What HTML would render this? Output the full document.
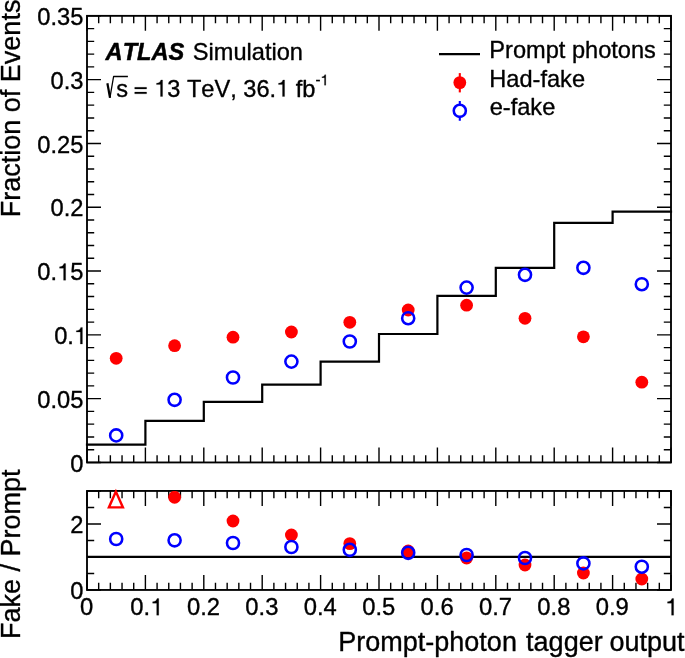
<!DOCTYPE html>
<html><head><meta charset="utf-8"><title>plot</title>
<style>html,body{margin:0;padding:0;background:#fff;}body{width:685px;height:658px;overflow:hidden;}svg{display:block;will-change:transform;}text{font-kerning:none;white-space:pre;}</style>
</head><body>
<svg width="685" height="658" viewBox="0 0 685 658">
<rect width="685" height="658" fill="#fff"/>
<path d="M87.00 462.45V447.45M87.00 15.85V30.85M87.00 589.95V574.95M87.00 490.95V505.95M98.68 462.45V455.15M98.68 15.85V23.15M98.68 589.95V582.65M98.68 490.95V498.25M110.36 462.45V455.15M110.36 15.85V23.15M110.36 589.95V582.65M110.36 490.95V498.25M122.04 462.45V455.15M122.04 15.85V23.15M122.04 589.95V582.65M122.04 490.95V498.25M133.72 462.45V455.15M133.72 15.85V23.15M133.72 589.95V582.65M133.72 490.95V498.25M145.40 462.45V447.45M145.40 15.85V30.85M145.40 589.95V574.95M145.40 490.95V505.95M157.08 462.45V455.15M157.08 15.85V23.15M157.08 589.95V582.65M157.08 490.95V498.25M168.76 462.45V455.15M168.76 15.85V23.15M168.76 589.95V582.65M168.76 490.95V498.25M180.44 462.45V455.15M180.44 15.85V23.15M180.44 589.95V582.65M180.44 490.95V498.25M192.12 462.45V455.15M192.12 15.85V23.15M192.12 589.95V582.65M192.12 490.95V498.25M203.80 462.45V447.45M203.80 15.85V30.85M203.80 589.95V574.95M203.80 490.95V505.95M215.48 462.45V455.15M215.48 15.85V23.15M215.48 589.95V582.65M215.48 490.95V498.25M227.16 462.45V455.15M227.16 15.85V23.15M227.16 589.95V582.65M227.16 490.95V498.25M238.84 462.45V455.15M238.84 15.85V23.15M238.84 589.95V582.65M238.84 490.95V498.25M250.52 462.45V455.15M250.52 15.85V23.15M250.52 589.95V582.65M250.52 490.95V498.25M262.20 462.45V447.45M262.20 15.85V30.85M262.20 589.95V574.95M262.20 490.95V505.95M273.88 462.45V455.15M273.88 15.85V23.15M273.88 589.95V582.65M273.88 490.95V498.25M285.56 462.45V455.15M285.56 15.85V23.15M285.56 589.95V582.65M285.56 490.95V498.25M297.24 462.45V455.15M297.24 15.85V23.15M297.24 589.95V582.65M297.24 490.95V498.25M308.92 462.45V455.15M308.92 15.85V23.15M308.92 589.95V582.65M308.92 490.95V498.25M320.60 462.45V447.45M320.60 15.85V30.85M320.60 589.95V574.95M320.60 490.95V505.95M332.28 462.45V455.15M332.28 15.85V23.15M332.28 589.95V582.65M332.28 490.95V498.25M343.96 462.45V455.15M343.96 15.85V23.15M343.96 589.95V582.65M343.96 490.95V498.25M355.64 462.45V455.15M355.64 15.85V23.15M355.64 589.95V582.65M355.64 490.95V498.25M367.32 462.45V455.15M367.32 15.85V23.15M367.32 589.95V582.65M367.32 490.95V498.25M379.00 462.45V447.45M379.00 15.85V30.85M379.00 589.95V574.95M379.00 490.95V505.95M390.68 462.45V455.15M390.68 15.85V23.15M390.68 589.95V582.65M390.68 490.95V498.25M402.36 462.45V455.15M402.36 15.85V23.15M402.36 589.95V582.65M402.36 490.95V498.25M414.04 462.45V455.15M414.04 15.85V23.15M414.04 589.95V582.65M414.04 490.95V498.25M425.72 462.45V455.15M425.72 15.85V23.15M425.72 589.95V582.65M425.72 490.95V498.25M437.40 462.45V447.45M437.40 15.85V30.85M437.40 589.95V574.95M437.40 490.95V505.95M449.08 462.45V455.15M449.08 15.85V23.15M449.08 589.95V582.65M449.08 490.95V498.25M460.76 462.45V455.15M460.76 15.85V23.15M460.76 589.95V582.65M460.76 490.95V498.25M472.44 462.45V455.15M472.44 15.85V23.15M472.44 589.95V582.65M472.44 490.95V498.25M484.12 462.45V455.15M484.12 15.85V23.15M484.12 589.95V582.65M484.12 490.95V498.25M495.80 462.45V447.45M495.80 15.85V30.85M495.80 589.95V574.95M495.80 490.95V505.95M507.48 462.45V455.15M507.48 15.85V23.15M507.48 589.95V582.65M507.48 490.95V498.25M519.16 462.45V455.15M519.16 15.85V23.15M519.16 589.95V582.65M519.16 490.95V498.25M530.84 462.45V455.15M530.84 15.85V23.15M530.84 589.95V582.65M530.84 490.95V498.25M542.52 462.45V455.15M542.52 15.85V23.15M542.52 589.95V582.65M542.52 490.95V498.25M554.20 462.45V447.45M554.20 15.85V30.85M554.20 589.95V574.95M554.20 490.95V505.95M565.88 462.45V455.15M565.88 15.85V23.15M565.88 589.95V582.65M565.88 490.95V498.25M577.56 462.45V455.15M577.56 15.85V23.15M577.56 589.95V582.65M577.56 490.95V498.25M589.24 462.45V455.15M589.24 15.85V23.15M589.24 589.95V582.65M589.24 490.95V498.25M600.92 462.45V455.15M600.92 15.85V23.15M600.92 589.95V582.65M600.92 490.95V498.25M612.60 462.45V447.45M612.60 15.85V30.85M612.60 589.95V574.95M612.60 490.95V505.95M624.28 462.45V455.15M624.28 15.85V23.15M624.28 589.95V582.65M624.28 490.95V498.25M635.96 462.45V455.15M635.96 15.85V23.15M635.96 589.95V582.65M635.96 490.95V498.25M647.64 462.45V455.15M647.64 15.85V23.15M647.64 589.95V582.65M647.64 490.95V498.25M659.32 462.45V455.15M659.32 15.85V23.15M659.32 589.95V582.65M659.32 490.95V498.25M671.00 462.45V447.45M671.00 15.85V30.85M671.00 589.95V574.95M671.00 490.95V505.95M87.00 462.45H101.00M671.00 462.45H657.00M87.00 449.69H94.20M671.00 449.69H663.80M87.00 436.93H94.20M671.00 436.93H663.80M87.00 424.17H94.20M671.00 424.17H663.80M87.00 411.41H94.20M671.00 411.41H663.80M87.00 398.65H101.00M671.00 398.65H657.00M87.00 385.89H94.20M671.00 385.89H663.80M87.00 373.13H94.20M671.00 373.13H663.80M87.00 360.37H94.20M671.00 360.37H663.80M87.00 347.61H94.20M671.00 347.61H663.80M87.00 334.85H101.00M671.00 334.85H657.00M87.00 322.09H94.20M671.00 322.09H663.80M87.00 309.33H94.20M671.00 309.33H663.80M87.00 296.57H94.20M671.00 296.57H663.80M87.00 283.81H94.20M671.00 283.81H663.80M87.00 271.05H101.00M671.00 271.05H657.00M87.00 258.29H94.20M671.00 258.29H663.80M87.00 245.53H94.20M671.00 245.53H663.80M87.00 232.77H94.20M671.00 232.77H663.80M87.00 220.01H94.20M671.00 220.01H663.80M87.00 207.25H101.00M671.00 207.25H657.00M87.00 194.49H94.20M671.00 194.49H663.80M87.00 181.73H94.20M671.00 181.73H663.80M87.00 168.97H94.20M671.00 168.97H663.80M87.00 156.21H94.20M671.00 156.21H663.80M87.00 143.45H101.00M671.00 143.45H657.00M87.00 130.69H94.20M671.00 130.69H663.80M87.00 117.93H94.20M671.00 117.93H663.80M87.00 105.17H94.20M671.00 105.17H663.80M87.00 92.41H94.20M671.00 92.41H663.80M87.00 79.65H101.00M671.00 79.65H657.00M87.00 66.89H94.20M671.00 66.89H663.80M87.00 54.13H94.20M671.00 54.13H663.80M87.00 41.37H94.20M671.00 41.37H663.80M87.00 28.61H94.20M671.00 28.61H663.80M87.00 15.85H101.00M671.00 15.85H657.00M87.00 589.95H101.00M671.00 589.95H657.00M87.00 573.45H94.20M671.00 573.45H663.80M87.00 556.95H101.00M671.00 556.95H657.00M87.00 540.45H94.20M671.00 540.45H663.80M87.00 523.95H101.00M671.00 523.95H657.00M87.00 507.45H94.20M671.00 507.45H663.80M87.00 490.95H101.00M671.00 490.95H657.00" stroke="#000" stroke-width="1.40" fill="none"/>
<path d="M87.00 444.70H145.40V420.90H203.80V401.90H262.20V384.70H320.60V361.60H379.00V334.00H437.40V295.90H495.80V267.90H554.20V222.80H612.60V211.70H671.00" stroke="#000" stroke-width="2.2" fill="none" stroke-linejoin="miter" stroke-linecap="square"/>
<path d="M87.00 556.95H671.00" stroke="#000" stroke-width="2.2"/>
<rect x="87.00" y="15.85" width="584.00" height="446.60" fill="none" stroke="#000" stroke-width="1.85"/>
<rect x="87.00" y="490.95" width="584.00" height="99.00" fill="none" stroke="#000" stroke-width="1.85"/>
<circle cx="116.20" cy="358.30" r="6.4" fill="#f00"/>
<circle cx="174.60" cy="345.70" r="6.4" fill="#f00"/>
<circle cx="233.00" cy="337.20" r="6.4" fill="#f00"/>
<circle cx="291.40" cy="332.00" r="6.4" fill="#f00"/>
<circle cx="349.80" cy="322.30" r="6.4" fill="#f00"/>
<circle cx="408.20" cy="310.00" r="6.4" fill="#f00"/>
<circle cx="466.60" cy="305.20" r="6.4" fill="#f00"/>
<circle cx="525.00" cy="318.30" r="6.4" fill="#f00"/>
<circle cx="583.40" cy="336.80" r="6.4" fill="#f00"/>
<circle cx="641.80" cy="382.20" r="6.4" fill="#f00"/>
<circle cx="116.20" cy="435.40" r="6.05" fill="none" stroke="#00f" stroke-width="2.55"/>
<circle cx="174.60" cy="399.80" r="6.05" fill="none" stroke="#00f" stroke-width="2.55"/>
<circle cx="233.00" cy="377.50" r="6.05" fill="none" stroke="#00f" stroke-width="2.55"/>
<circle cx="291.40" cy="361.60" r="6.05" fill="none" stroke="#00f" stroke-width="2.55"/>
<circle cx="349.80" cy="341.50" r="6.05" fill="none" stroke="#00f" stroke-width="2.55"/>
<circle cx="408.20" cy="318.20" r="6.05" fill="none" stroke="#00f" stroke-width="2.55"/>
<circle cx="466.60" cy="287.60" r="6.05" fill="none" stroke="#00f" stroke-width="2.55"/>
<circle cx="525.00" cy="274.80" r="6.05" fill="none" stroke="#00f" stroke-width="2.55"/>
<circle cx="583.40" cy="267.80" r="6.05" fill="none" stroke="#00f" stroke-width="2.55"/>
<circle cx="641.80" cy="284.20" r="6.05" fill="none" stroke="#00f" stroke-width="2.55"/>
<clipPath id="rc"><rect x="87.00" y="490.95" width="584.00" height="99.00"/></clipPath>
<g clip-path="url(#rc)">
<circle cx="174.60" cy="497.30" r="6.4" fill="#f00"/>
<circle cx="233.00" cy="521.00" r="6.4" fill="#f00"/>
<circle cx="291.40" cy="535.00" r="6.4" fill="#f00"/>
<circle cx="349.80" cy="543.60" r="6.4" fill="#f00"/>
<circle cx="408.20" cy="551.00" r="6.4" fill="#f00"/>
<circle cx="466.60" cy="558.00" r="6.4" fill="#f00"/>
<circle cx="525.00" cy="565.00" r="6.4" fill="#f00"/>
<circle cx="583.40" cy="573.00" r="6.4" fill="#f00"/>
<circle cx="641.80" cy="579.00" r="6.4" fill="#f00"/>
</g>
<circle cx="116.20" cy="539.00" r="6.05" fill="none" stroke="#00f" stroke-width="2.55"/>
<circle cx="174.60" cy="540.30" r="6.05" fill="none" stroke="#00f" stroke-width="2.55"/>
<circle cx="233.00" cy="543.00" r="6.05" fill="none" stroke="#00f" stroke-width="2.55"/>
<circle cx="291.40" cy="547.00" r="6.05" fill="none" stroke="#00f" stroke-width="2.55"/>
<circle cx="349.80" cy="549.80" r="6.05" fill="none" stroke="#00f" stroke-width="2.55"/>
<circle cx="408.20" cy="552.80" r="6.05" fill="none" stroke="#00f" stroke-width="2.55"/>
<circle cx="466.60" cy="555.00" r="6.05" fill="none" stroke="#00f" stroke-width="2.55"/>
<circle cx="525.00" cy="558.00" r="6.05" fill="none" stroke="#00f" stroke-width="2.55"/>
<circle cx="583.40" cy="563.40" r="6.05" fill="none" stroke="#00f" stroke-width="2.55"/>
<circle cx="641.80" cy="566.70" r="6.05" fill="none" stroke="#00f" stroke-width="2.55"/>
<path d="M115.90 491.60L108.90 507.40L122.90 507.40Z" fill="none" stroke="#f00" stroke-width="2.4"/>
<path d="M439 54.2H480" stroke="#000" stroke-width="2.2"/>
<path d="M459.8 73.1V92.4" stroke="#f00" stroke-width="2.1"/><circle cx="459.8" cy="82.6" r="6.4" fill="#f00"/>
<path d="M459.8 101.1V105M459.8 116.6V120.8" stroke="#00f" stroke-width="2.1"/><circle cx="459.8" cy="110.8" r="6.05" fill="none" stroke="#00f" stroke-width="2.55"/>
<g font-family="'Liberation Sans', sans-serif" fill="#000" stroke="#000" stroke-width="0.35" stroke-linejoin="round">
<g font-size="23.6">
<text x="489.3" y="58.4">Prompt photons</text>
<text x="489.3" y="86.5">Had-fake</text>
<text x="489.7" y="114.5">e-fake</text>
<text x="105.6" y="60.1" font-weight="bold" font-style="italic" font-size="23.6" stroke-width="0.5">ATLAS</text>
<text x="192.8" y="60.1" font-size="23.6">Simulation</text>
<text x="116.30" y="96.50" font-size="23.60">s</text>
<text x="127.20" y="96.50" font-size="23.60"> </text><path transform="translate(133.76 96.50) scale(0.02360 -0.02360)" d="M39 115H545V190H39ZM39 315H545V390H39Z" stroke-width="8.5"/><text x="147.54" y="96.50" font-size="23.60"> </text><path transform="translate(154.10 96.50) scale(0.02360 -0.02360)" d="M359 0H271V505H101V566C190 570 262 606 288 703H359Z" stroke-width="8.5"/><text x="167.22" y="96.50" font-size="23.60">3 TeV, 36.</text><path transform="translate(276.11 96.50) scale(0.02360 -0.02360)" d="M359 0H271V505H101V566C190 570 262 606 288 703H359Z" stroke-width="8.5"/><text x="289.23" y="96.50" font-size="23.60"> fb</text>
<text x="315.40" y="85.20" font-size="15.00">-</text><path transform="translate(320.40 85.20) scale(0.01500 -0.01500)" d="M359 0H271V505H101V566C190 570 262 606 288 703H359Z" stroke-width="13.3"/>
</g>
<path d="M109.9 97.8L113.6 76.5H127.9" fill="none" stroke="#000" stroke-width="1.3"/><path d="M107.4 83.2L110.0 97.7" fill="none" stroke="#000" stroke-width="2.2"/>
<g>
<text x="70.32" y="471.65" font-size="23.70">0</text>
<text x="37.37" y="407.85" font-size="23.70">0.05</text>
<text x="54.16" y="344.05" font-size="23.70">0.</text><path transform="translate(73.92 344.05) scale(0.02370 -0.02370)" d="M359 0H271V505H101V566C190 570 262 606 288 703H359Z" stroke-width="8.4"/>
<text x="37.37" y="280.25" font-size="23.70">0.</text><path transform="translate(57.14 280.25) scale(0.02370 -0.02370)" d="M359 0H271V505H101V566C190 570 262 606 288 703H359Z" stroke-width="8.4"/><text x="70.32" y="280.25" font-size="23.70">5</text>
<text x="50.55" y="216.45" font-size="23.70">0.2</text>
<text x="37.37" y="152.65" font-size="23.70">0.25</text>
<text x="50.55" y="88.85" font-size="23.70">0.3</text>
<text x="37.37" y="25.05" font-size="23.70">0.35</text>
<text x="70.22" y="532.95" font-size="23.70">2</text>
<text x="70.22" y="598.95" font-size="23.70">0</text>
</g>
<g>
<text x="80.08" y="615.20" font-size="23.80">0</text>
<text x="130.37" y="615.20" font-size="23.80">0.</text><path transform="translate(150.22 615.20) scale(0.02380 -0.02380)" d="M359 0H271V505H101V566C190 570 262 606 288 703H359Z" stroke-width="8.4"/>
<text x="186.96" y="615.20" font-size="23.80">0.2</text>
<text x="245.36" y="615.20" font-size="23.80">0.3</text>
<text x="303.76" y="615.20" font-size="23.80">0.4</text>
<text x="362.16" y="615.20" font-size="23.80">0.5</text>
<text x="420.56" y="615.20" font-size="23.80">0.6</text>
<text x="478.96" y="615.20" font-size="23.80">0.7</text>
<text x="537.36" y="615.20" font-size="23.80">0.8</text>
<text x="595.76" y="615.20" font-size="23.80">0.9</text>
<path transform="translate(665.09 615.20) scale(0.02380 -0.02380)" d="M359 0H271V505H101V566C190 570 262 606 288 703H359Z" stroke-width="8.4"/>
</g>
<text y="651.3" font-size="27"><tspan x="338.3">Prompt-photon</tspan><tspan x="526.1">tagger</tspan><tspan x="609.5">output</tspan></text>
<text transform="translate(20.1 -0.4) rotate(-90)" font-size="27" text-anchor="end">Fraction of Events</text>
<text transform="translate(20.1 469.4) rotate(-90)" font-size="27" text-anchor="end">Fake / Prompt</text>
</g>
</svg>
</body></html>
